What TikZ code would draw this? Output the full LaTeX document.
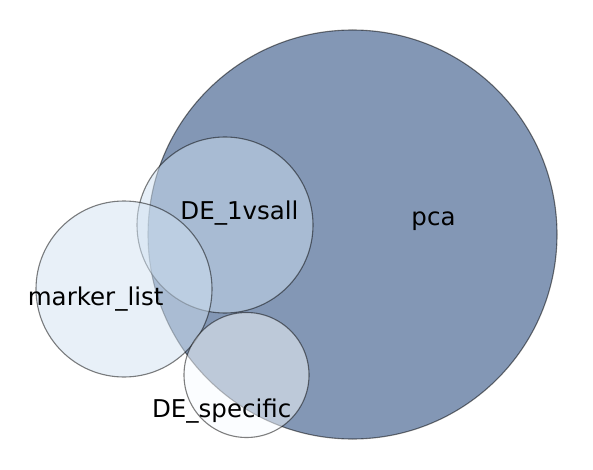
\documentclass[tikz,border=0pt]{standalone}
\usepackage{fontspec}
\setmainfont{DejaVu Sans}
\definecolor{cpca}{HTML}{08306B}
\definecolor{cone}{HTML}{CEE0F1}
\definecolor{cmark}{HTML}{D1E2F2}
\definecolor{cspec}{HTML}{F7FBFF}
\tikzset{
  setcircle/.style={circle, inner sep=0pt, fill opacity=0.5, draw=black, draw opacity=0.5, line width=1.1pt},
  setlabel/.style={anchor=base, inner sep=0pt, font=\fontsize{24.5}{28}\selectfont, text=black}
}
\begin{document}
\begin{tikzpicture}[x=1pt,y=-1pt]
\useasboundingbox (0,0) rectangle (593,470);
\node[setcircle, fill=cpca, minimum size=409pt] (pca) at (352.5,234.5) {};
\node[setcircle, fill=cone, minimum size=176pt] (one) at (225,225) {};
\node[setcircle, fill=cmark, minimum size=176pt] (mark) at (124,289) {};
\node[setcircle, fill=cspec, minimum size=125pt] (spec) at (246.5,375) {};
\node[setlabel] (lpca) at (433.5,225) {pca};
\node[setlabel] (lone) at (239.5,219.3) {DE\_1vsall};
\node[setlabel] (lmark) at (95.7,305.7) {marker\_list};
\node[setlabel] (lspec) at (221.7,417.3) {DE\_specific};
\end{tikzpicture}
\end{document}
